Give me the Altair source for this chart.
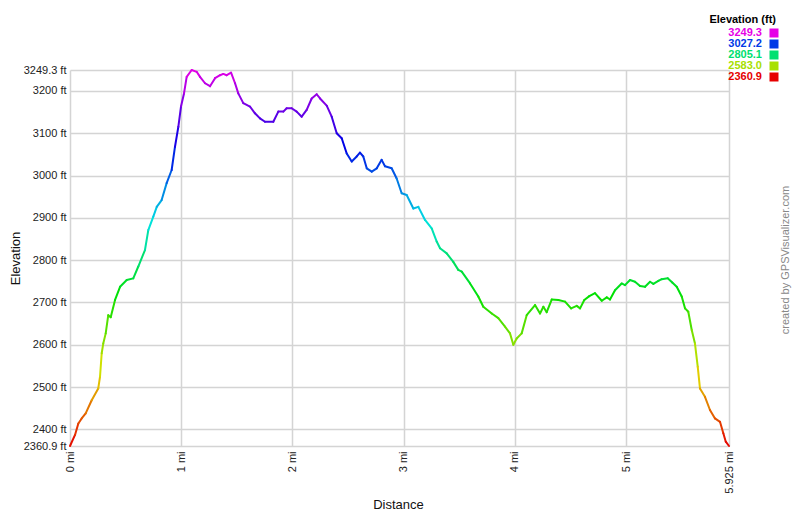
import altair as alt
import pandas as pd

dist_mi = [0.000, 0.045, 0.075, 0.105, 0.141, 0.195, 0.254, 0.270, 0.285, 0.299,
           0.321, 0.344, 0.366, 0.405, 0.450, 0.510, 0.569, 0.614, 0.674, 0.704,
           0.749, 0.780, 0.824, 0.869, 0.914, 0.944, 0.974, 0.998, 1.025, 1.049,
           1.094, 1.139, 1.169, 1.214, 1.259, 1.304, 1.349, 1.378, 1.409, 1.448,
           1.484, 1.513, 1.558, 1.618, 1.663, 1.708, 1.753, 1.828, 1.873, 1.918,
           1.948, 1.993, 2.038, 2.083, 2.128, 2.173, 2.218, 2.248, 2.308, 2.353,
           2.398, 2.443, 2.488, 2.533, 2.578, 2.607, 2.637, 2.668, 2.713, 2.758,
           2.802, 2.832, 2.892, 2.937, 2.982, 3.027, 3.087, 3.132, 3.192, 3.252,
           3.297, 3.327, 3.387, 3.446, 3.491, 3.522, 3.597, 3.671, 3.716, 3.792,
           3.851, 3.911, 3.956, 3.986, 4.016, 4.061, 4.106, 4.181, 4.226, 4.256,
           4.286, 4.331, 4.391, 4.451, 4.505, 4.556, 4.586, 4.624, 4.669, 4.720,
           4.781, 4.826, 4.855, 4.900, 4.960, 4.990, 5.035, 5.080, 5.125, 5.170,
           5.215, 5.245, 5.290, 5.320, 5.374, 5.415, 5.455, 5.500, 5.530, 5.559,
           5.590, 5.619, 5.644, 5.664, 5.709, 5.754, 5.799, 5.844, 5.874, 5.896,
           5.925]
elev_ft = [2360.9, 2387, 2414, 2426, 2438, 2469, 2497, 2525, 2580, 2603,
           2627, 2670, 2665, 2706, 2737, 2753, 2757, 2785, 2824, 2871,
           2903, 2926, 2942, 2982, 3013, 3068, 3115, 3163, 3194, 3233,
           3249.3, 3245, 3233, 3218, 3211, 3230, 3237, 3240, 3237, 3243,
           3218, 3194, 3171, 3163, 3147, 3135, 3127, 3127, 3151, 3151,
           3159, 3159, 3151, 3139, 3155, 3182, 3192, 3182, 3165, 3139,
           3100, 3088, 3052, 3033, 3045, 3054, 3045, 3017, 3009, 3017,
           3037, 3022, 3017, 2993, 2958, 2954, 2922, 2926, 2895, 2875,
           2844, 2828, 2816, 2796, 2777, 2773, 2745, 2714, 2690, 2674,
           2663, 2643, 2627, 2600, 2615, 2627, 2670, 2694, 2674, 2690,
           2677, 2707, 2706, 2702, 2686, 2692, 2686, 2706, 2715, 2722,
           2704, 2712, 2707, 2729, 2745, 2741, 2753, 2749, 2739, 2737,
           2749, 2744, 2751, 2755, 2757, 2747, 2737, 2714, 2686, 2678,
           2635, 2603, 2548, 2497, 2477, 2446, 2426, 2418, 2391, 2371,
           2360.9]

x_ticks = [0, 1, 2, 3, 4, 5, 5.925]
y_ticks = [2360.9, 2400, 2500, 2600, 2700, 2800, 2900, 3000, 3100, 3200, 3249.3]
legend_values = [3249.3, 3027.2, 2805.1, 2583.0, 2360.9]
legend_labels = ["3249.3", "3027.2", "2805.1", "2583.0", "2360.9"]
legend_colors = ["hsl(300,100%,45%)", "hsl(225,100%,45%)", "hsl(150,100%,44%)",
                 "hsl(75,100%,44%)", "hsl(0,100%,45%)"]

seg = pd.DataFrame({
    "d": dist_mi[:-1], "e": elev_ft[:-1],
    "d2": dist_mi[1:], "e2": elev_ft[1:],
})
seg["c"] = (seg["e"] + seg["e2"]) / 2

FONT = "Liberation Sans"

color_scale = alt.Scale(domain=legend_values[::-1], range=legend_colors[::-1],
                        interpolate="hsl")
xs = alt.Scale(domain=[0, 5.925], nice=False, zero=False)
ys = alt.Scale(domain=[2360.9, 3249.3], nice=False, zero=False)

line = alt.Chart(seg).mark_rule(strokeWidth=2, strokeCap="round").encode(
    x=alt.X("d:Q", scale=xs, axis=alt.Axis(
        values=x_ticks, labelExpr="datum.value + ' mi'", title="Distance",
        grid=True, ticks=False, domain=False, labelAngle=270, labelAlign="right",
        labelBaseline="middle", labelPadding=5, labelFlush=False, labelOverlap=False,
        labelBound=False, titleX=328, titleY=58, titleAlign="center",
        titleBaseline="middle")),
    x2=alt.X2("d2"),
    y=alt.Y("e:Q", scale=ys, axis=alt.Axis(
        values=y_ticks, labelExpr="datum.value + ' ft'", title="Elevation",
        grid=True, ticks=False, domain=False, labelPadding=4, labelFlush=False,
        labelOverlap=False, labelBound=False, titleAngle=270, titleX=-55,
        titleY=188, titleAlign="center", titleBaseline="middle")),
    y2=alt.Y2("e2"),
    color=alt.Color("c:Q", scale=color_scale, legend=None),
)

leg = pd.DataFrame({"v": legend_values, "label": legend_labels})
leg_y = alt.Y("label:O", scale=alt.Scale(type="point", domain=legend_labels,
                                         range=[-37, 7], padding=0), axis=None)

legend_text = alt.Chart(leg).mark_text(
    align="right", baseline="middle", font=FONT, fontSize=11, fontWeight="bold"
).encode(
    x=alt.value(692), y=leg_y, text="label:N",
    color=alt.Color("v:Q", scale=color_scale, legend=None),
)
legend_sq = alt.Chart(leg).mark_square(size=81, opacity=1).encode(
    x=alt.value(704), y=leg_y,
    color=alt.Color("v:Q", scale=color_scale, legend=None),
)
legend_title = alt.Chart(pd.DataFrame({"t": ["Elevation (ft)"]})).mark_text(
    align="right", baseline="middle", font=FONT, fontSize=11, fontWeight="bold",
    color="black"
).encode(x=alt.value(706), y=alt.value(-50), text="t:N")

credit = alt.Chart(pd.DataFrame({"t": ["created by GPSVisualizer.com"]})).mark_text(
    angle=270, align="center", baseline="middle", font=FONT, fontSize=11,
    color="#888888"
).encode(x=alt.value(716), y=alt.value(190), text="t:N")

chart = alt.layer(line, legend_text, legend_sq, legend_title, credit).resolve_scale(
    y="independent"
).properties(
    width=659, height=376, autosize="none",
    padding={"left": 62, "top": 62, "right": 63, "bottom": 66},
).configure_view(stroke=None).configure_axis(
    gridColor="#d4d4d4", gridWidth=1.5, labelFont=FONT, labelFontSize=11,
    labelColor="#222222", titleFont=FONT, titleFontSize=13,
    titleFontWeight="normal", titleColor="#111111",
)

chart.save("out.html", embed_options={"renderer": "svg", "actions": False})
